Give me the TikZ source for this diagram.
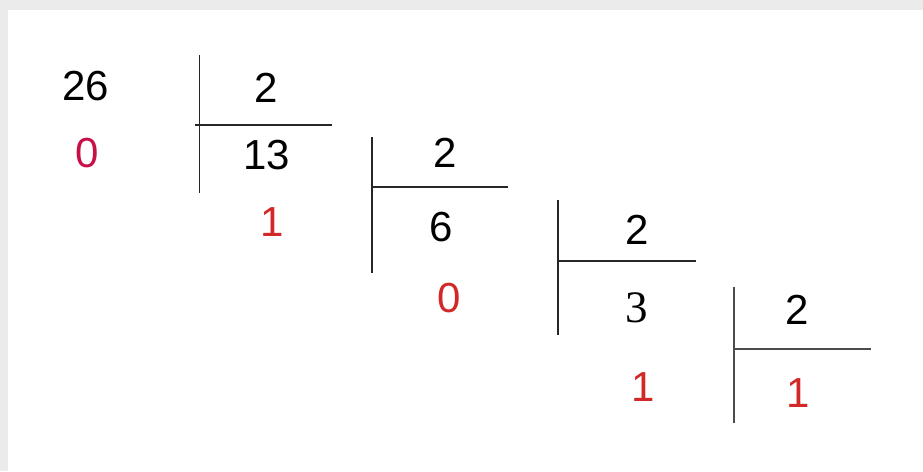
\documentclass[tikz,border=0pt]{standalone}
\usepackage{fontspec}
\setmainfont{Liberation Sans}
\newfontfamily\serifnum{Liberation Serif}
\usepackage{tikz}
\usetikzlibrary{positioning}
\definecolor{Marco}{RGB}{235, 235, 235}
\definecolor{Carmesi}{RGB}{200, 16, 72}
\definecolor{Rojo}{RGB}{211, 40, 40}

\begin{document}
\begin{tikzpicture}[x=1pt, y=-1pt,
        num/.style={inner sep=0pt, font=\fontsize{42}{48}\selectfont, text=black},
        resto/.style={num, text=Rojo},
        barra/.style={draw=black!85, line width=1.3pt}
    ]%
        % ================= FONDO Y MARCO =================
        \fill[Marco] (0, 0) rectangle (923, 471);
        \fill[white] (8, 10) rectangle (923, 471);
        \useasboundingbox (0, 0) rectangle (923, 471);
        % ================= DIVIDENDO INICIAL =================
        \node[num] (n26) at (86, 86) {26};
        \node[resto, text=Carmesi] (r0) at (87, 153) {0};
        % ================= PRIMERA DIVISION =================
        \node[num] (d1) at (266, 88) {2};
        \node[num] (c13) at (267, 155) {13};
        \coordinate (v1a) at (199.5, 55); \coordinate (v1b) at (199.5, 193);
        \coordinate (h1a) at (195, 125); \coordinate (h1b) at (332, 125);
        \draw[barra] (v1a) -- (v1b);
        \draw[barra] (h1a) -- (h1b);
        \node[resto] (r1) at (272, 222) {1};
        % ================= SEGUNDA DIVISION =================
        \node[num] (d2) at (445, 153) {2};
        \node[num] (c6) at (441, 227) {6};
        \coordinate (v2a) at (372, 137); \coordinate (v2b) at (372, 273);
        \coordinate (h2a) at (372, 187); \coordinate (h2b) at (508, 187);
        \draw[barra] (v2a) -- (v2b);
        \draw[barra] (h2a) -- (h2b);
        \node[resto] (r2) at (449, 298) {0};
        % ================= TERCERA DIVISION =================
        \node[num] (d3) at (637, 230) {2};
        \node[num, font=\fontsize{45}{50}\selectfont\serifnum] (c3) at (637, 308) {3};
        \coordinate (v3a) at (558, 200); \coordinate (v3b) at (558, 335);
        \coordinate (h3a) at (558, 261); \coordinate (h3b) at (696, 261);
        \draw[barra] (v3a) -- (v3b);
        \draw[barra] (h3a) -- (h3b);
        \node[resto] (r3) at (643, 387) {1};
        % ================= CUARTA DIVISION =================
        \node[num] (d4) at (797, 310) {2};
        \coordinate (v4a) at (734, 287); \coordinate (v4b) at (734, 423);
        \coordinate (h4a) at (734, 349); \coordinate (h4b) at (871, 349);
        \draw[barra, draw=black!70] (v4a) -- (v4b);
        \draw[barra, draw=black!70] (h4a) -- (h4b);
        \node[resto] (r4) at (798, 393) {1};
    \end{tikzpicture}
\end{document}
